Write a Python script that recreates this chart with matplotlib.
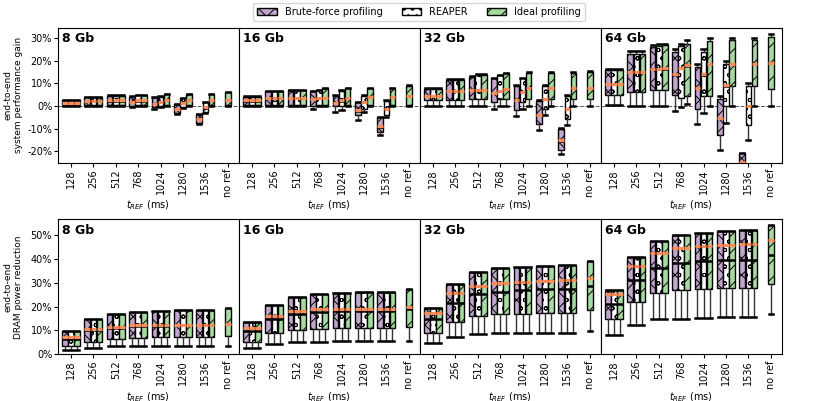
import numpy as np
import matplotlib
matplotlib.use("Agg")
import matplotlib.pyplot as plt
from matplotlib.patches import Patch
from matplotlib.ticker import FuncFormatter

tref_labels = ["128", "256", "512", "768", "1024", "1280", "1536", "no ref"]
densities = ["8 Gb", "16 Gb", "32 Gb", "64 Gb"]
methods = ["Brute-force profiling", "REAPER", "Ideal profiling"]

# each row: (whisker low, q1, median, q3, whisker high, mean), values in %
# top row: end-to-end system performance gain
perf_bf = {
    "8 Gb": [(0.0, 0.3, 1.2, 2.6, 2.8, 1.3), (0.0, 0.3, 2.0, 3.8, 4.0, 2.1),
             (0.0, 0.3, 2.4, 4.5, 4.7, 2.5), (-0.6, -0.1, 1.8, 4.1, 4.3, 1.9),
             (-1.5, -0.6, 0.9, 3.8, 4.0, 1.0), (-3.7, -3.1, -1.3, 0.8, 1.0, -1.2),
             (-8.0, -7.5, -5.7, -3.6, -3.4, -5.6)],
    "16 Gb": [(0.0, 0.3, 2.4, 4.1, 4.3, 2.5), (-0.1, 0.3, 3.4, 6.4, 6.6, 3.5),
              (-0.1, 0.3, 3.6, 7.0, 7.2, 3.7), (-1.2, -0.1, 3.0, 6.4, 6.6, 3.1),
              (-2.6, -0.1, 1.2, 4.5, 4.7, 1.3), (-6.0, -4.1, -2.0, 1.6, 1.8, -1.9),
              (-12.9, -11.5, -9.1, -5.0, -4.8, -9.0)],
    "32 Gb": [(-0.1, 2.5, 4.3, 7.7, 7.9, 4.4), (0.0, 2.5, 6.4, 11.6, 11.8, 6.5),
              (-0.1, 3.0, 7.1, 12.9, 13.1, 7.2), (-1.2, 1.8, 5.8, 12.3, 12.5, 5.9),
              (-4.5, -1.6, 2.7, 8.9, 9.1, 2.8), (-10.7, -8.1, -3.9, 2.3, 2.5, -3.8),
              (-21.3, -19.2, -15.2, -9.9, -9.7, -15.1)],
    "64 Gb": [(0.3, 4.7, 9.8, 15.8, 16.1, 9.9), (0.2, 6.2, 14.8, 22.7, 24.3, 15.0),
              (-0.1, 6.9, 16.3, 25.9, 26.8, 16.5), (-2.3, 5.0, 14.1, 23.8, 25.0, 14.3),
              (-8.1, -1.2, 7.9, 17.2, 18.6, 8.1), (-19.5, -12.9, -5.3, 3.0, 4.4, -5.1),
              (-32.0, -29.0, -25.0, -20.8, -20.5, -24.5)],
}
perf_reaper = {
    "8 Gb": [(0.0, 0.3, 1.2, 2.6, 2.8, 1.3), (0.0, 0.3, 2.0, 3.8, 4.0, 2.1),
             (0.0, 0.3, 2.4, 4.5, 4.7, 2.5), (0.0, 0.3, 2.4, 4.8, 5.0, 2.5),
             (-0.3, -0.1, 1.8, 4.1, 4.3, 1.9), (-1.0, -0.6, 1.2, 3.5, 3.7, 1.3),
             (-3.0, -2.6, -0.7, 1.6, 1.8, -0.6)],
    "16 Gb": [(0.0, 0.3, 2.4, 4.1, 4.3, 2.5), (-0.1, 0.3, 3.4, 6.4, 6.6, 3.5),
              (-0.1, 0.3, 3.6, 7.0, 7.2, 3.7), (-0.1, 0.3, 3.4, 7.0, 7.2, 3.5),
              (-1.9, -0.1, 2.4, 6.7, 6.9, 2.5), (-2.6, -1.2, 1.7, 4.5, 4.7, 1.8),
              (-4.8, -4.1, -1.3, 2.3, 2.5, -1.2)],
    "32 Gb": [(-0.1, 2.5, 4.3, 7.7, 7.9, 4.4), (0.0, 2.5, 6.4, 11.6, 11.8, 6.5),
              (-0.1, 3.0, 7.1, 13.8, 14.0, 7.2), (0.0, 3.0, 6.7, 13.6, 13.8, 6.8),
              (-1.2, 1.8, 6.2, 12.3, 12.5, 6.3), (-4.1, -1.2, 3.0, 8.9, 9.1, 3.1),
              (-8.5, -5.6, -1.3, 4.5, 4.7, -1.2)],
    "64 Gb": [(0.3, 4.7, 9.8, 15.8, 16.1, 9.9), (0.2, 6.2, 14.8, 22.7, 24.3, 15.0),
              (0.0, 6.9, 16.3, 26.5, 27.5, 16.5), (-0.6, 3.5, 16.7, 26.5, 27.5, 16.9),
              (-2.9, 4.4, 14.1, 23.8, 25.2, 14.3), (-7.3, -0.1, 8.9, 18.7, 19.7, 9.1),
              (-15.1, -8.2, -0.1, 8.7, 10.3, 0.1)],
}
# ideal profiling has an extra "no ref" entry
perf_ideal = {
    "8 Gb": [(0.0, 0.3, 1.2, 2.6, 2.8, 1.3), (0.0, 0.3, 2.0, 3.8, 4.0, 2.1),
             (0.0, 0.3, 2.4, 4.5, 4.7, 2.5), (0.0, 0.3, 2.4, 4.8, 5.0, 2.5),
             (0.0, 0.3, 2.7, 5.1, 5.3, 2.8), (0.0, 0.3, 2.7, 5.1, 5.3, 2.8),
             (0.0, 0.3, 2.7, 5.1, 5.3, 2.8), (0.0, 0.3, 2.7, 6.0, 6.2, 2.8)],
    "16 Gb": [(0.0, 0.3, 2.4, 4.1, 4.3, 2.5), (-0.1, 0.3, 3.4, 6.4, 6.6, 3.5),
              (-0.1, 0.3, 3.6, 7.0, 7.2, 3.7), (-0.1, 0.3, 3.6, 7.9, 8.1, 3.7),
              (-0.1, 0.3, 3.4, 7.9, 8.1, 3.5), (-0.1, 0.3, 3.8, 7.9, 8.1, 3.9),
              (-0.1, 0.3, 3.8, 7.9, 8.1, 3.9), (0.0, 0.3, 4.2, 8.7, 9.3, 4.3)],
    "32 Gb": [(-0.1, 2.5, 4.3, 7.7, 7.9, 4.4), (0.0, 2.5, 6.4, 11.6, 11.8, 6.5),
              (-0.1, 3.0, 7.1, 13.8, 14.0, 7.2), (0.0, 3.0, 7.5, 14.4, 14.6, 7.6),
              (0.0, 3.0, 7.8, 14.6, 14.8, 7.9), (0.0, 3.0, 7.8, 14.6, 14.8, 7.9),
              (0.0, 3.0, 7.8, 14.6, 14.8, 7.9), (0.0, 3.0, 7.9, 15.1, 15.3, 8.0)],
    "64 Gb": [(0.3, 4.7, 9.8, 15.8, 16.1, 9.9), (0.2, 6.2, 14.8, 22.7, 24.3, 15.0),
              (0.0, 6.9, 16.5, 27.0, 27.5, 16.7), (0.8, 4.4, 17.8, 27.5, 29.0, 18.0),
              (0.1, 4.4, 18.5, 28.5, 30.0, 18.7), (0.1, 8.7, 18.5, 29.0, 30.1, 18.7),
              (0.0, 8.7, 18.5, 29.0, 30.0, 18.7), (0.0, 7.5, 18.9, 30.2, 31.5, 19.1)],
}

# bottom row: end-to-end DRAM power reduction (the three methods look the same)
power = {
    "8 Gb": [(1.8, 3.6, 6.6, 9.7, 9.7, 7.4), (2.8, 5.3, 10.2, 14.8, 14.8, 10.6),
             (3.5, 6.4, 11.2, 16.7, 16.7, 11.5), (3.5, 6.9, 11.8, 17.8, 17.8, 12.1),
             (3.5, 7.1, 12.0, 18.2, 18.2, 12.2), (3.5, 7.4, 12.2, 18.5, 18.5, 12.4),
             (3.5, 7.4, 12.2, 18.5, 18.5, 12.4), (3.6, 7.6, 12.5, 19.5, 19.5, 12.7)],
    "16 Gb": [(2.8, 5.3, 9.7, 13.6, 13.6, 11.1), (4.3, 8.8, 14.6, 20.6, 20.6, 16.1),
              (5.0, 10.2, 17.1, 24.1, 24.1, 18.1), (5.2, 10.6, 17.8, 25.1, 25.1, 18.8),
              (5.4, 11.0, 18.0, 25.5, 25.5, 19.0), (5.5, 11.0, 18.2, 26.0, 26.0, 19.2),
              (5.5, 11.0, 18.2, 26.0, 26.0, 19.2), (5.6, 11.5, 18.8, 27.3, 27.3, 19.7)],
    "32 Gb": [(4.6, 9.0, 14.6, 19.6, 19.6, 17.4), (7.4, 13.6, 21.6, 29.4, 29.4, 25.5),
              (8.4, 16.1, 25.1, 34.4, 34.4, 28.7), (8.8, 17.1, 26.3, 36.0, 36.0, 30.1),
              (9.0, 17.1, 26.9, 36.6, 36.6, 30.5), (9.0, 17.4, 27.2, 37.0, 37.0, 30.8),
              (9.0, 17.4, 27.5, 37.3, 37.3, 31.1), (9.7, 18.5, 28.6, 39.0, 39.0, 31.8)],
    "64 Gb": [(8.1, 14.8, 20.9, 26.9, 26.9, 25.1), (12.2, 22.0, 31.3, 40.8, 40.8, 37.0),
              (14.6, 25.8, 36.4, 47.5, 47.5, 42.6), (15.0, 26.9, 38.3, 49.9, 49.9, 44.6),
              (15.4, 27.3, 39.0, 51.0, 51.0, 45.4), (15.7, 27.7, 39.4, 51.7, 51.7, 46.0),
              (15.7, 27.8, 39.7, 52.0, 52.0, 46.3), (16.7, 29.3, 41.8, 54.3, 54.3, 47.8)],
}

colors = ["#c2a5cf", "white", "#a6dba0"]
hatches = ["xx", "oo", "//"]
offsets = [-0.27, 0.0, 0.27]
mean_color = "#fc8d59"


def to_stats(rows):
    return [dict(whislo=r[0], q1=r[1], med=r[2], q3=r[3], whishi=r[4], mean=r[5])
            for r in rows]


def draw_boxes(ax, rows, m):
    pos = np.arange(len(rows), dtype=float)
    pos[:7] += offsets[m]
    ax.bxp(to_stats(rows), positions=pos, widths=0.25, patch_artist=True,
           showmeans=True, meanline=True, showfliers=False, capwidths=0.18,
           boxprops=dict(facecolor=colors[m], edgecolor="black", linewidth=1.0,
                         hatch=hatches[m]),
           medianprops=dict(color="black", linewidth=1.8),
           meanprops=dict(color=mean_color, linestyle="-", linewidth=2.3),
           whiskerprops=dict(color="#333333", linewidth=1.0),
           capprops=dict(color="black", linewidth=1.8))


plt.rcParams["font.size"] = 7
plt.rcParams["hatch.linewidth"] = 0.7

fig, axes = plt.subplots(2, 4, figsize=(8.3, 4.01), dpi=100, sharey="row")
left, right = 0.0695, 0.9418
w = (right - left) / 4
for j in range(4):
    x0 = left + j * w
    axes[0, j].set_position([x0, 0.594, w, 0.931 - 0.594])
    axes[1, j].set_position([x0, 0.1165, w, 0.453 - 0.1165])

pct = FuncFormatter(lambda v, _: f"{int(round(v))}%")

for j, d in enumerate(densities):
    ax = axes[0, j]
    draw_boxes(ax, perf_bf[d], 0)
    draw_boxes(ax, perf_reaper[d], 1)
    draw_boxes(ax, perf_ideal[d], 2)
    ax.axhline(0, color="#555555", linestyle="--", linewidth=0.7, zorder=0)
    ax.set_ylim(-25, 34.5)
    ax.set_yticks([-20, -10, 0, 10, 20, 30])

    ax = axes[1, j]
    for m in range(3):
        rows = power[d] if m == 2 else power[d][:7]
        draw_boxes(ax, rows, m)
    ax.set_ylim(0, 56.6)
    ax.set_yticks([0, 10, 20, 30, 40, 50])

    for ax in axes[:, j]:
        ax.set_xlim(-0.59, 7.49)
        ax.set_xticks(np.arange(8))
        ax.set_xticklabels(tref_labels, rotation=90)
        ax.tick_params(axis="x", length=3, pad=1.5)
        ax.tick_params(axis="y", length=3, pad=1)
        ax.set_xlabel("$t_{REF}$ (ms)", labelpad=1)
        ax.yaxis.set_major_formatter(pct)
        ax.text(0.025, 0.965, d, transform=ax.transAxes, fontsize=9,
                fontweight="bold", va="top", ha="left")
        if j > 0:
            ax.tick_params(axis="y", left=False)

axes[0, 0].set_ylabel("end-to-end\nsystem performance gain", fontsize=6.5)
axes[1, 0].set_ylabel("end-to-end\nDRAM power reduction", fontsize=6.5)
for ax in axes[:, 0]:
    ax.yaxis.set_label_coords(-0.19, 0.5)

handles = [Patch(facecolor=colors[m], edgecolor="black", hatch=hatches[m],
                 label=methods[m]) for m in range(3)]
fig.legend(handles=handles, loc="upper center", bbox_to_anchor=(0.505, 1.0),
           ncol=3, fontsize=7, frameon=True, handlelength=2.0,
           borderaxespad=0.3, columnspacing=2.0)

fig.savefig("out.png", dpi=100)
